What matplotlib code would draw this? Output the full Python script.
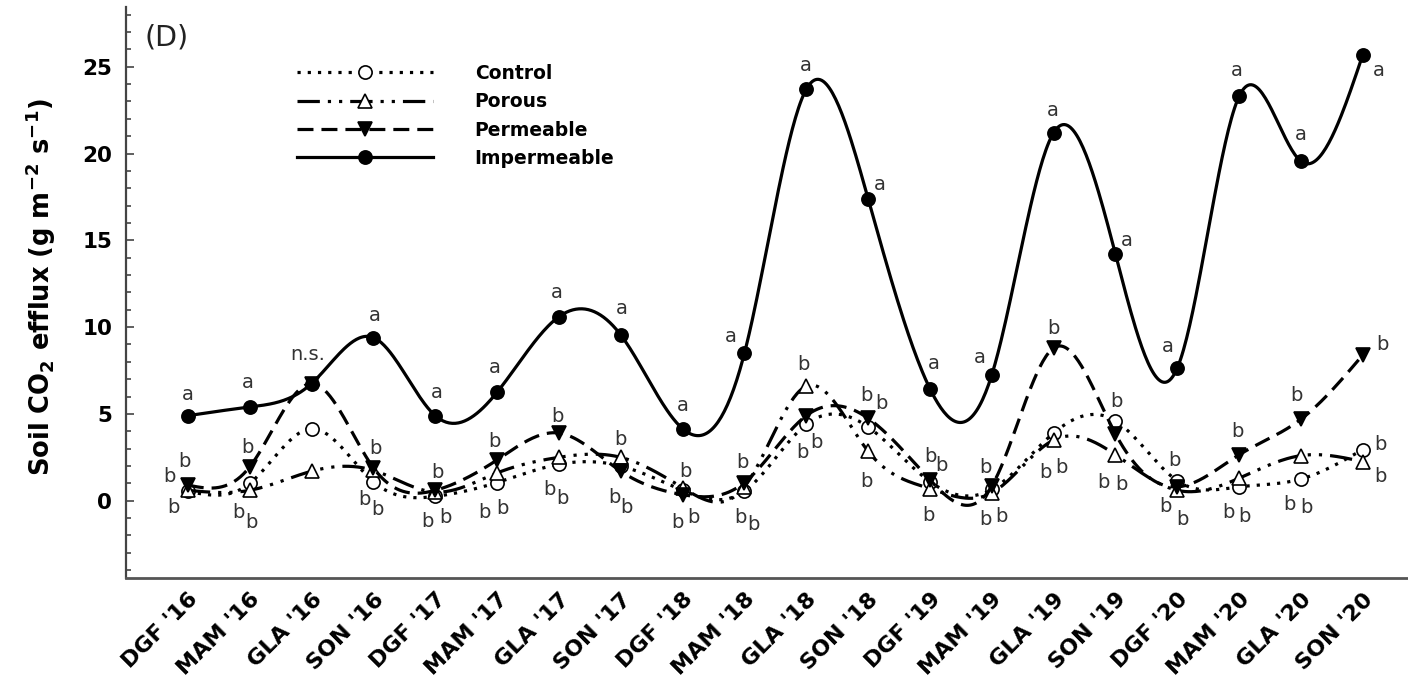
import numpy as np
import matplotlib.pyplot as plt
from matplotlib.ticker import MultipleLocator

plt.rcParams['font.family'] = ['DejaVu Sans']

seasons = ["DGF '16", "MAM '16", "GLA '16", "SON '16", "DGF '17", "MAM '17",
           "GLA '17", "SON '17", "DGF '18", "MAM '18", "GLA '18", "SON '18",
           "DGF '19", "MAM '19", "GLA '19", "SON '19", "DGF '20", "MAM '20",
           "GLA '20", "SON '20"]

control = [0.55, 1.0, 4.15, 1.1, 0.25, 1.05, 2.1, 2.0, 0.6, 0.55,
           4.4, 4.25, 1.1, 0.65, 3.9, 4.6, 1.15, 0.8, 1.25, 2.95]
porous = [0.6, 0.6, 1.7, 1.75, 0.5, 1.6, 2.5, 2.5, 0.75, 0.8,
          6.6, 2.85, 0.7, 0.45, 3.5, 2.65, 0.6, 1.3, 2.6, 2.25]
permeable = [0.9, 1.95, 6.75, 1.9, 0.6, 2.35, 3.9, 1.7, 0.35, 1.05,
             4.9, 4.75, 1.2, 0.85, 8.8, 3.85, 0.8, 2.65, 4.7, 8.4]
impermeable = [4.9, 5.4, 6.75, 9.4, 4.9, 6.25, 10.6, 9.55, 4.15, 8.5,
               23.7, 17.4, 6.45, 7.25, 21.2, 14.2, 7.65, 23.3, 19.55, 25.7]

# significance letters: (text, x, y) in data units
letters = [
    ("a", 0.0, 6.1), ("b", -0.05, 2.25), ("b", -0.29, 1.38), ("b", -0.24, -0.4),
    ("a", 0.97, 6.8), ("b", 0.97, 3.05), ("b", 0.82, -0.69), ("b", 1.03, -1.27),
    ("n.s.", 1.94, 8.41),
    ("a", 3.02, 10.66), ("b", 3.04, 3.0), ("b", 2.86, 0.06), ("b", 3.07, -0.52),
    ("a", 4.03, 6.22), ("b", 4.03, 1.61), ("b", 3.88, -1.21), ("b", 4.16, -0.98),
    ("a", 4.96, 7.67), ("b", 4.95, 3.4), ("b", 4.8, -0.69), ("b", 5.08, -0.46),
    ("a", 5.97, 11.99), ("b", 5.98, 4.84), ("b", 5.85, 0.63), ("b", 6.06, 0.12),
    ("a", 7.02, 11.07), ("b", 7.0, 3.52), ("b", 6.9, 0.17), ("b", 7.1, -0.4),
    ("a", 8.0, 5.48), ("b", 8.04, 1.67), ("b", 7.92, -1.27), ("b", 8.17, -0.98),
    ("a", 8.78, 9.45), ("b", 8.96, 2.19), ("b", 8.93, -0.98), ("b", 9.14, -1.38),
    ("a", 9.99, 25.07), ("b", 9.96, 7.84), ("b", 9.93, 2.77), ("b", 10.17, 3.34),
    ("a", 11.19, 18.21), ("b", 10.98, 6.05), ("b", 11.22, 5.59), ("b", 10.98, 1.1),
    ("a", 12.06, 7.9), ("b", 12.01, 2.54), ("b", 12.19, 2.02), ("b", 11.97, -0.86),
    ("a", 12.81, 8.24), ("b", 12.89, 1.9), ("b", 12.89, -1.1), ("b", 13.15, -0.92),
    ("a", 13.99, 22.48), ("b", 13.99, 9.91), ("b", 13.86, 1.61), ("b", 14.12, 1.9),
    ("a", 15.18, 14.99), ("b", 15.02, 5.71), ("b", 14.8, 1.04), ("b", 15.09, 0.92),
    ("a", 15.85, 8.88), ("b", 15.96, 2.31), ("b", 15.81, -0.35), ("b", 16.09, -1.1),
    ("a", 16.96, 24.78), ("b", 16.98, 3.98), ("b", 16.83, -0.69), ("b", 17.09, -0.92),
    ("a", 18.0, 21.1), ("b", 17.93, 6.05), ("b", 17.82, -0.23), ("b", 18.08, -0.4),
    ("a", 19.26, 24.78), ("b", 19.31, 8.99), ("b", 19.28, 3.23), ("b", 19.29, 1.38),
]


def natural_spline(y, steps=40):
    # natural cubic spline through equally spaced points (like SigmaPlot's spline curve)
    y = np.asarray(y, dtype=float)
    n = len(y)
    A = np.zeros((n, n))
    r = np.zeros(n)
    A[0, 0] = A[-1, -1] = 1
    for i in range(1, n - 1):
        A[i, i - 1:i + 2] = [1, 4, 1]
        r[i] = 6 * (y[i + 1] - 2 * y[i] + y[i - 1])
    M = np.linalg.solve(A, r)
    xs, ys = [], []
    for i in range(n - 1):
        t = np.linspace(0, 1, steps, endpoint=False)
        a = 1 - t
        s = (a * y[i] + t * y[i + 1]
             + ((a ** 3 - a) * M[i] + (t ** 3 - t) * M[i + 1]) / 6)
        xs.append(i + t)
        ys.append(s)
    xs.append([n - 1])
    ys.append([y[-1]])
    return np.concatenate(xs), np.concatenate(ys)


fig = plt.figure(figsize=(14.08, 6.8), dpi=100)
ax = fig.add_axes([0.0895, 0.15, 0.9105, 0.84])
x = np.arange(len(seasons))

series = [
    ("Control", control, (0, (1, 2.2)), 'o', 'white'),
    ("Porous", porous, (0, (7, 2.5, 1, 2.5, 1, 2.5)), '^', 'white'),
    ("Permeable", permeable, (0, (5, 2.5)), 'v', 'black'),
    ("Impermeable", impermeable, '-', 'o', 'black'),
]

for name, vals, ls, mk, fc in series:
    sx, sy = natural_spline(vals)
    ax.plot(sx, sy, color='black', linestyle=ls, linewidth=2.3)
    ax.plot(x, vals, linestyle='none', marker=mk, markersize=9.5,
            markerfacecolor=fc, markeredgecolor='black', markeredgewidth=1.2)
    # legend proxy
    ax.plot([], [], color='black', linestyle=ls, linewidth=2.3, marker=mk,
            markersize=9.5, markerfacecolor=fc, markeredgecolor='black',
            markeredgewidth=1.2, label=name)

for txt, lx, ly in letters:
    ax.text(lx, ly, txt, ha='center', va='center', fontsize=14, color='#333333')

ax.text(0.032, 0.946, "(D)", transform=ax.transAxes, ha='center', va='center',
        fontsize=20.5, color='#222222')

ax.set_xlim(-1, 19.73)
ax.set_ylim(-4.45, 28.45)
ax.set_xticks(x)
ax.set_xticklabels(seasons, rotation=45, ha='right', va='top',
                   rotation_mode='anchor', fontweight='bold', fontsize=16)
ax.tick_params(axis='x', length=0, pad=8)
ax.yaxis.set_major_locator(MultipleLocator(5))
ax.yaxis.set_minor_locator(MultipleLocator(1))
ax.set_yticks([0, 5, 10, 15, 20, 25])
ax.tick_params(axis='y', which='major', direction='in', length=6, width=1.2,
               color='#444444', pad=10, labelsize=15.5)
ax.tick_params(axis='y', which='minor', direction='in', length=3.5, width=1.2,
               color='#444444')
for lab in ax.get_yticklabels():
    lab.set_fontweight('bold')

ax.spines['top'].set_visible(False)
ax.spines['right'].set_visible(False)
ax.spines['left'].set_color('#444444')
ax.spines['bottom'].set_color('#555555')
ax.spines['left'].set_linewidth(1.6)
ax.spines['bottom'].set_linewidth(2.0)

ax.set_ylabel("Soil CO$_\\mathbf{2}$ efflux (g m$^\\mathbf{-2}$ s$^\\mathbf{-1}$)",
              fontsize=18.5, fontweight='bold')
ax.yaxis.set_label_coords(-0.053, 0.51)

leg = ax.legend(loc='upper left', bbox_to_anchor=(0.133, 0.9), frameon=False,
                handlelength=7.3, handletextpad=2.2, labelspacing=0.5,
                borderpad=0, borderaxespad=0, prop={'weight': 'bold', 'size': 13.5})

fig.savefig("out.png", dpi=100)
